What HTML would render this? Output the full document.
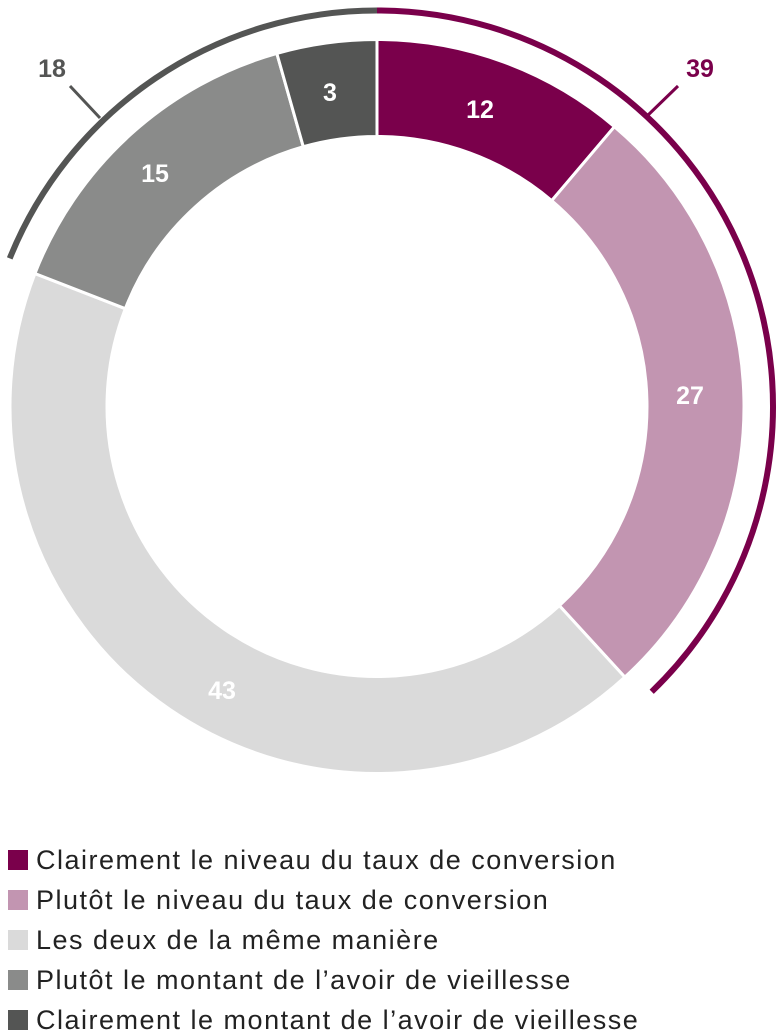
<!DOCTYPE html>
<html><head><meta charset="utf-8"><style>
body{margin:0;background:#fff;width:780px;height:1033px;overflow:hidden;font-family:"Liberation Sans",sans-serif}
.lg{position:absolute;left:8px;font-size:27px;letter-spacing:1.5px;color:#222;line-height:30px;white-space:nowrap}
.lg span{display:inline-block;width:20px;height:20px;vertical-align:-1px;margin-right:8px}
</style></head><body>
<svg id="s" width="780" height="1033" style="position:absolute;left:0;top:0"></svg>
<div class="lg" style="top:845px"><span style="background:#7a004b"></span>Clairement le niveau du taux de conversion</div>
<div class="lg" style="top:885px"><span style="background:#c295b1"></span>Plutôt le niveau du taux de conversion</div>
<div class="lg" style="top:925px"><span style="background:#dadada"></span>Les deux de la même manière</div>
<div class="lg" style="top:965px"><span style="background:#8a8b8a"></span>Plutôt le montant de l’avoir de vieillesse</div>
<div class="lg" style="top:1005px"><span style="background:#545554"></span>Clairement le montant de l’avoir de vieillesse</div>
<script>
const cx=377,cy=406.5,R=367,r=270;
const bnd=[0,11.2,38.2,80.9,95.6,100],cols=["#7a004b","#c295b1","#dadada","#8a8b8a","#545554"];
function p(a,rad){const t=a/100*2*Math.PI;return [cx+rad*Math.sin(t),cy-rad*Math.cos(t)];}
let h="";
for(let i=0;i<5;i++){const a=bnd[i],b=bnd[i+1],l=(b-a)>50?1:0;const[o1x,o1y]=p(a,R),[o2x,o2y]=p(b,R),[i2x,i2y]=p(b,r),[i1x,i1y]=p(a,r);
h+=`<path d="M${o1x},${o1y}A${R},${R} 0 ${l} 1 ${o2x},${o2y}L${i2x},${i2y}A${r},${r} 0 ${l} 0 ${i1x},${i1y}Z" fill="${cols[i]}" stroke="#fff" stroke-width="3"/>`;}
const RA=396;
let [x1,y1]=p(0,RA),[x2,y2]=p(37.8,RA);
h+=`<path d="M${x1},${y1}A${RA},${RA} 0 0 1 ${x2},${y2}" fill="none" stroke="#7a004b" stroke-width="6"/>`;
[x1,y1]=p(81.1,RA);[x2,y2]=p(100,RA);
h+=`<path d="M${x1},${y1}A${RA},${RA} 0 0 1 ${x2},${y2}" fill="none" stroke="#545554" stroke-width="6"/>`;
h+=`<line x1="645" y1="118" x2="678" y2="86" stroke="#7a004b" stroke-width="3"/>`;
h+=`<line x1="100" y1="118" x2="70" y2="86" stroke="#545554" stroke-width="3"/>`;
const T=(x,y,t,c)=>h+=`<text x="${x}" y="${y}" fill="${c}" font-size="25" font-weight="bold" text-anchor="middle" font-family="Liberation Sans, sans-serif">${t}</text>`;
T(480,118,"12","#fff");T(690,404,"27","#fff");T(222,699,"43","#fff");T(155,182,"15","#fff");T(330,101,"3","#fff");
T(700,77,"39","#7a004b");T(52,77,"18","#545554");
document.getElementById("s").innerHTML=h;
</script>
</body></html>
